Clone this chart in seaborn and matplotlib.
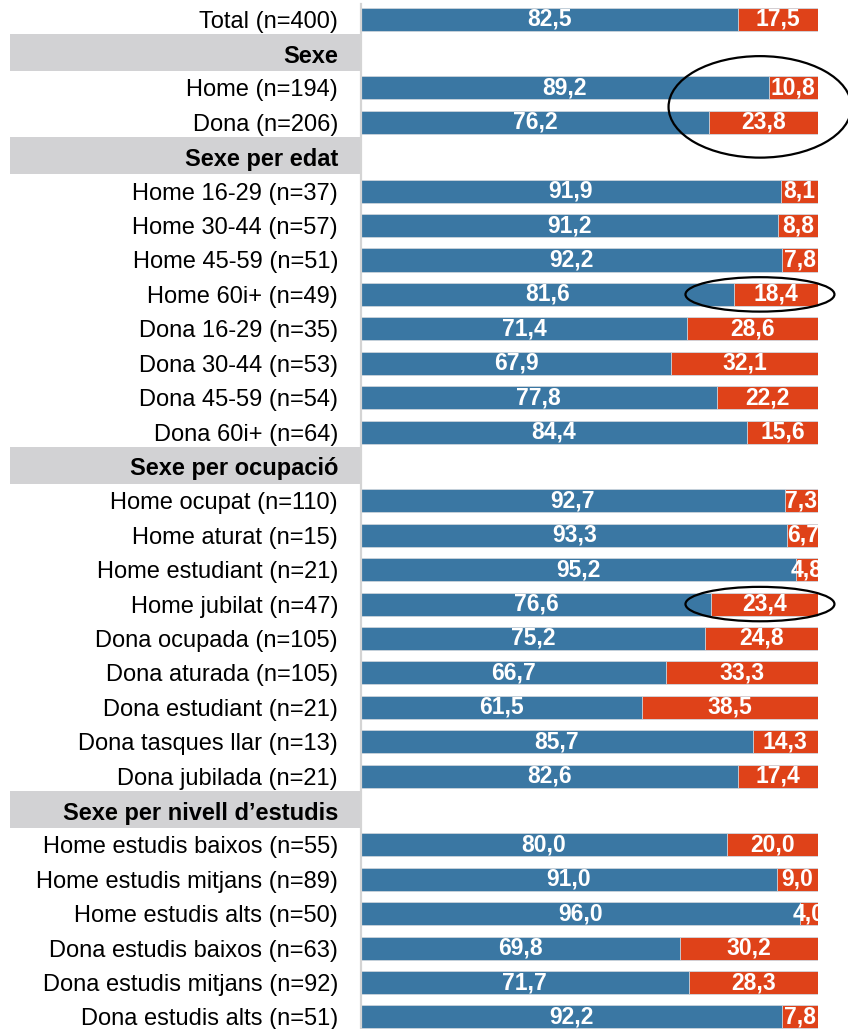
import numpy as np
import pandas as pd
import seaborn as sns
import matplotlib.pyplot as plt
from matplotlib.patches import Rectangle, Ellipse
from matplotlib.transforms import blended_transform_factory

# -----------------------------
# Data
# -----------------------------
labels = [
    "Total (n=400)",
    "Sexe",
    "Home (n=194)", "Dona (n=206)",
    "Sexe per edat",
    "Home 16-29 (n=37)", "Home 30-44 (n=57)", "Home 45-59 (n=51)", "Home 60i+ (n=49)",
    "Dona 16-29 (n=35)", "Dona 30-44 (n=53)", "Dona 45-59 (n=54)", "Dona 60i+ (n=64)",
    "Sexe per ocupació",
    "Home ocupat (n=110)", "Home aturat (n=15)", "Home estudiant (n=21)", "Home jubilat (n=47)",
    "Dona ocupada (n=105)", "Dona aturada (n=105)", "Dona estudiant (n=21)",
    "Dona tasques llar (n=13)", "Dona jubilada (n=21)",
    "Sexe per nivell d\u2019estudis",
    "Home estudis baixos (n=55)", "Home estudis mitjans (n=89)", "Home estudis alts (n=50)",
    "Dona estudis baixos (n=63)", "Dona estudis mitjans (n=92)", "Dona estudis alts (n=51)",
]
headers = ["Sexe", "Sexe per edat", "Sexe per ocupació", "Sexe per nivell d\u2019estudis"]

share_a = [82.5, None, 89.2, 76.2, None, 91.9, 91.2, 92.2, 81.6, 71.4, 67.9, 77.8, 84.4,
           None, 92.7, 93.3, 95.2, 76.6, 75.2, 66.7, 61.5, 85.7, 82.6,
           None, 80.0, 91.0, 96.0, 69.8, 71.7, 92.2]
share_b = [17.5, None, 10.8, 23.8, None, 8.1, 8.8, 7.8, 18.4, 28.6, 32.1, 22.2, 15.6,
           None, 7.3, 6.7, 4.8, 23.4, 24.8, 33.3, 38.5, 14.3, 17.4,
           None, 20.0, 9.0, 4.0, 30.2, 28.3, 7.8]

# rows circled in the original
highlights = [
    ["Home (n=194)", "Dona (n=206)"],
    ["Home 60i+ (n=49)"],
    ["Home jubilat (n=47)"],
]

BLUE = "#3A77A3"
ORANGE = "#DF4219"
GREY_BOX = "#D2D2D4"

df = pd.DataFrame({"label": labels, "a": share_a, "b": share_b})
df["total"] = df["a"] + df["b"]

# -----------------------------
# Figure
# -----------------------------
sns.set_style("white")
plt.rcParams["font.family"] = ["Liberation Sans", "DejaVu Sans"]
plt.rcParams["text.color"] = "black"
plt.rcParams["ytick.color"] = "black"

W, H = 848, 1029
fig = plt.figure(figsize=(W / 100, H / 100), dpi=100)
ax = fig.add_axes([361 / W, 0, (818 - 361) / W, 1 - 4 / H])

bar_kw = dict(orient="h", order=labels, width=0.67, linewidth=0.6,
              edgecolor="#d0d8e0", saturation=1)
sns.barplot(data=df, y="label", x="total", color=ORANGE, ax=ax, **bar_kw)
sns.barplot(data=df, y="label", x="a", color=BLUE, ax=ax, **bar_kw)

fmt = lambda v: f"{v:.1f}".replace(".", ",")
for i, row in df.iterrows():
    if pd.isna(row["a"]):
        continue
    ax.text(row["a"] / 2, i, fmt(row["a"]), ha="center", va="center",
            color="white", fontsize=16.5, fontweight="bold", clip_on=True)
    ax.text(row["a"] + row["b"] / 2, i, fmt(row["b"]), ha="center", va="center",
            color="white", fontsize=16.5, fontweight="bold", clip_on=True)

ax.set_xlim(0, 100)
ax.set_ylim(29.35, -0.44)
ax.set_xlabel("")
ax.set_ylabel("")
ax.set_xticks([])

ax.set_yticks(range(len(labels)))
ax.set_yticklabels(labels, fontsize=17, color="black")
ax.tick_params(axis="y", length=0, pad=16.5)
for tick in ax.get_yticklabels():
    if tick.get_text() in headers:
        tick.set_fontweight("bold")

for side in ["top", "right", "bottom"]:
    ax.spines[side].set_visible(False)
ax.spines["left"].set_color("#d4d4d4")
ax.spines["left"].set_linewidth(1.6)

# grey boxes behind the group headers
trans = blended_transform_factory(fig.transFigure, ax.transData)
for h in headers:
    i = labels.index(h)
    ax.add_patch(Rectangle((10 / W, i - 0.57), 350 / W, 1.07, transform=trans,
                           facecolor=GREY_BOX, edgecolor="none", clip_on=False, zorder=0))

# ellipses around the highlighted rows
for rows in highlights:
    idx = [labels.index(r) for r in rows]
    yc = np.mean(idx)
    if len(idx) > 1:
        e = Ellipse((87.3, yc + 0.05), 40.0, 2.95)
    else:
        e = Ellipse((87.3, yc), 32.6, 1.0)
    e.set_facecolor("none")
    e.set_edgecolor("black")
    e.set_linewidth(1.6)
    e.set_clip_on(False)
    e.set_zorder(5)
    ax.add_patch(e)

plt.savefig("out.png", dpi=100)
plt.close()
